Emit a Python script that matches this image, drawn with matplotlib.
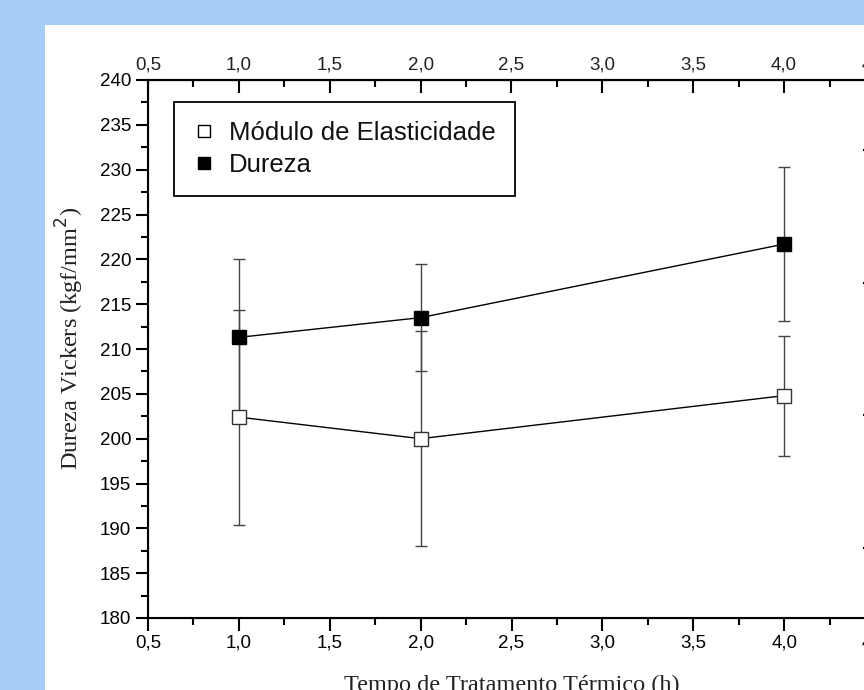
import matplotlib.pyplot as plt
from matplotlib.lines import Line2D
from matplotlib.patches import Rectangle
from matplotlib.ticker import MultipleLocator

# tempo de tratamento (h)
tempo = [1.0, 2.0, 4.0]

modulo = [202.4, 200.0, 204.8]
modulo_err = [12.0, 12.0, 6.7]

dureza = [211.3, 213.5, 221.7]
dureza_err = [8.7, 6.0, 8.6]

x_ticks = [0.5, 1.0, 1.5, 2.0, 2.5, 3.0, 3.5, 4.0, 4.5]
x_ticklabels = ["0,5", "1,0", "1,5", "2,0", "2,5", "3,0", "3,5", "4,0", "4,5"]
y_ticks = [180, 185, 190, 195, 200, 205, 210, 215, 220, 225, 230, 235, 240]

W, H = 864, 690
fig = plt.figure(figsize=(W / 100, H / 100), dpi=100)
fig.patch.set_facecolor("#a5cdf8")
fig.patches.append(Rectangle((45 / W, 0), 1, 1 - 25 / H, transform=fig.transFigure,
                             facecolor="white", edgecolor="none", zorder=-10))

# axes run past the right edge, like the cropped original
ax = fig.add_axes([148 / W, 1 - 618 / H, (875 - 148) / W, (618 - 80) / H])
ax.set_facecolor("none")

err_kw = dict(ecolor="#444444", elinewidth=1.0, capsize=4.5, capthick=1.0)
ax.errorbar(tempo, modulo, yerr=modulo_err, fmt="none", zorder=2, **err_kw)
ax.errorbar(tempo, dureza, yerr=dureza_err, fmt="none", zorder=2, **err_kw)
ax.plot(tempo, modulo, color="black", lw=1.0, zorder=3)
ax.plot(tempo, dureza, color="black", lw=1.0, zorder=3)
ax.plot(tempo, modulo, ls="none", marker="s", ms=10.5, mfc="white", mec="#333333",
        mew=1.0, zorder=4)
ax.plot(tempo, dureza, ls="none", marker="s", ms=10.5, mfc="black", mec="black",
        mew=1.0, zorder=4)

ax.set_xlim(0.5, 4.5)
ax.set_ylim(180, 240)
ax.set_xticks(x_ticks)
ax.set_xticklabels(x_ticklabels)
ax.set_yticks(y_ticks)
ax.xaxis.set_minor_locator(MultipleLocator(0.25))
ax.yaxis.set_minor_locator(MultipleLocator(2.5))

tick_font = {"family": "Liberation Sans", "size": 13.5}
for lab in ax.get_xticklabels() + ax.get_yticklabels():
    lab.set_fontfamily(tick_font["family"])
    lab.set_fontsize(tick_font["size"])
    lab.set_color("#222222")

ax.tick_params(which="both", direction="out", width=1.5, colors="black",
               top=False, right=False)
ax.tick_params(which="major", length=9, pad=3)
ax.tick_params(which="minor", length=5)
for sp in ax.spines.values():
    sp.set_linewidth(1.5)

# mirrored top axis with labels, ticks pointing inward
top = ax.secondary_xaxis("top")
top.set_xticks(x_ticks)
top.set_xticklabels(x_ticklabels)
top.xaxis.set_minor_locator(MultipleLocator(0.25))
top.tick_params(which="both", direction="in", width=1.5, pad=5)
top.tick_params(which="major", length=9)
top.tick_params(which="minor", length=5)
for lab in top.get_xticklabels():
    lab.set_fontfamily(tick_font["family"])
    lab.set_fontsize(tick_font["size"])
    lab.set_color("#222222")
top.spines["top"].set_linewidth(1.5)

# right axis (cut off by the image edge), only its inward ticks show
right = ax.twinx()
right.set_ylim(54.7, 95.3)
right.yaxis.set_major_locator(MultipleLocator(10))
right.yaxis.set_minor_locator(MultipleLocator(5))
right.tick_params(which="both", direction="in", width=1.5, labelright=False)
right.tick_params(which="major", length=9)
right.tick_params(which="minor", length=5)

ax.set_ylabel("Dureza Vickers (kgf/mm$^2$)", family="Liberation Serif", fontsize=17.5,
              labelpad=6, color="#222222")
ax.yaxis.set_label_coords(-0.085, 0.52)
ax.set_xlabel("Tempo de Tratamento Térmico (h)", family="Liberation Serif", fontsize=17.5,
              labelpad=17, color="#222222")

handles = [
    Line2D([], [], ls="none", marker="s", ms=8, mfc="white", mec="black", mew=1.0),
    Line2D([], [], ls="none", marker="s", ms=8, mfc="black", mec="black", mew=1.0),
]
leg = ax.legend(handles, ["Módulo de Elasticidade", "Dureza"], loc="upper left",
                bbox_to_anchor=((174 - 148) / 727, (618 - 102) / 538), borderaxespad=0,
                fancybox=False, edgecolor="black", framealpha=1,
                prop={"family": "Liberation Sans", "size": 18.5}, handlelength=0.8,
                handletextpad=0.6, labelspacing=0.3, borderpad=0.75)
leg.get_frame().set_linewidth(1.3)
for t in leg.get_texts():
    t.set_color("#111111")

fig.savefig("out.png", dpi=100)
